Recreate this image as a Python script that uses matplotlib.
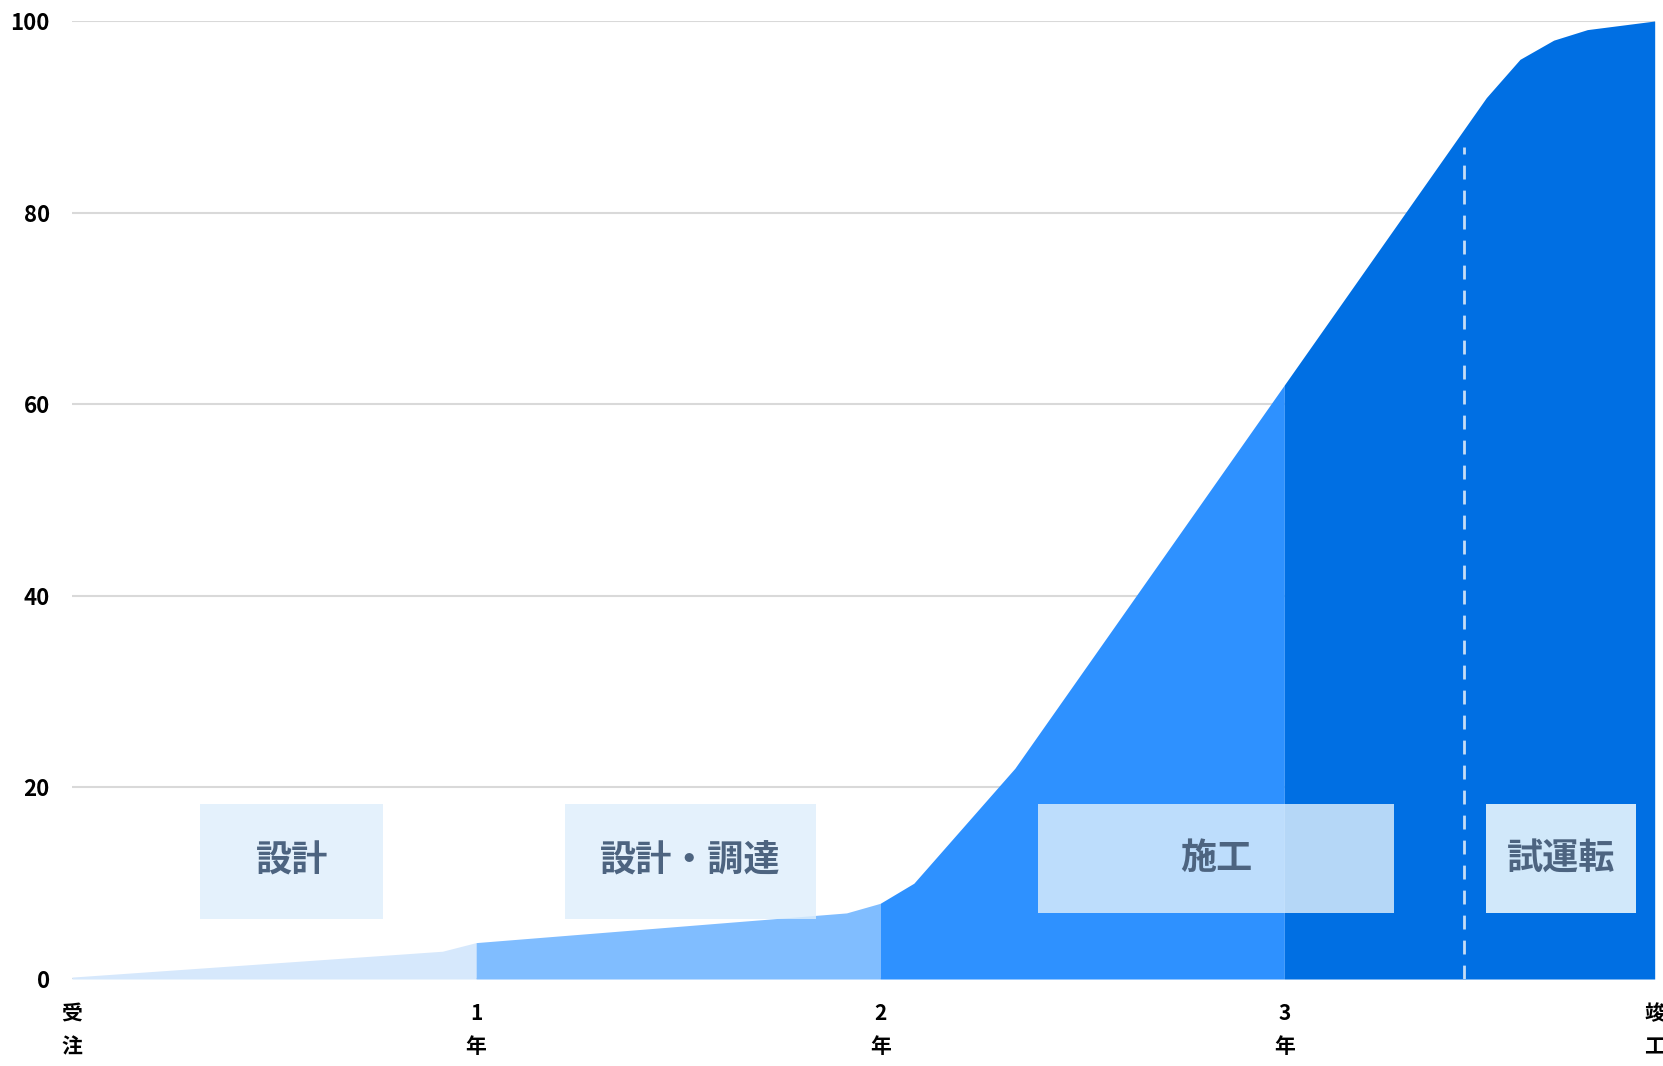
import matplotlib.pyplot as plt
import numpy as np

plt.rcParams['font.family'] = ['Noto Sans CJK JP', 'DejaVu Sans']

# progress curve (months since order -> cumulative %)
months = [0, 11, 12, 23, 24, 25, 28, 36, 42, 43, 44, 45, 47]
progress = [0.2, 2.9, 3.8, 6.9, 7.9, 10.0, 22.0, 62.0, 92.0, 96.0, 98.0, 99.1, 100.0]

# phases: (start month, end month)
phase_bounds = [(0, 12), (12, 24), (24, 36), (36, 47)]
phase_colors = ['#D6E8FC', '#80BDFF', '#2E91FF', '#006FE3']

# labels boxes: text, x0, x1, y0, y1
box_texts = ['設計', '設計・調達', '施工', '試運転']
box_x = [(3.8, 9.25), (14.65, 22.08), (28.7, 39.25), (42.0, 46.45)]
box_y = [(6.3, 18.3), (6.3, 18.3), (6.9, 18.3), (6.9, 18.3)]
box_alpha = [0.82, 0.82, 0.82, 0.95]

tick_pos = [0, 12, 24, 36, 47]
tick_labels = ['受\n注', '1\n年', '2\n年', '3\n年', '竣\n工']

trial_start = 41.35
trial_top = 86.9


def main():
    m = np.array(months, dtype=float)
    p = np.array(progress)

    fig = plt.figure(figsize=(16.63, 10.66), dpi=100)
    ax = fig.add_axes([0.0433, 0.0816, 0.9517, 0.8987])

    for (lo, hi), c in zip(phase_bounds, phase_colors):
        sel = (m >= lo) & (m <= hi)
        ax.fill_between(m[sel], 0, p[sel], color=c, lw=0, zorder=2)

    ax.plot([trial_start, trial_start], [0, trial_top], color='#C5DCF5',
            lw=2, dashes=(5, 4), zorder=3)

    for txt, (x0, x1), (y0, y1), a in zip(box_texts, box_x, box_y, box_alpha):
        ax.add_patch(plt.Rectangle((x0, y0), x1 - x0, y1 - y0,
                                   facecolor='#DEEFFC', alpha=a, lw=0, zorder=4))
        ax.text((x0 + x1) / 2, (y0 + y1) / 2, txt, ha='center', va='center',
                fontsize=26, fontweight='bold', color='#4D6480', zorder=5)

    ax.set_xlim(0, 47)
    ax.set_ylim(0, 100)
    ax.set_yticks([0, 20, 40, 60, 80, 100])
    ax.set_xticks(tick_pos)
    ax.set_xticklabels(tick_labels, linespacing=1.75)
    ax.grid(axis='y', color='#D9D9D9', lw=1.5, zorder=0)
    ax.set_axisbelow(True)
    for s in ax.spines.values():
        s.set_visible(False)
    ax.tick_params(length=0)
    ax.tick_params(axis='y', pad=16, labelsize=16)
    ax.tick_params(axis='x', pad=17, labelsize=15)
    for lab in ax.get_xticklabels() + ax.get_yticklabels():
        lab.set_fontweight('bold')

    fig.savefig('out.png', dpi=100)


if __name__ == "__main__":
    main()
